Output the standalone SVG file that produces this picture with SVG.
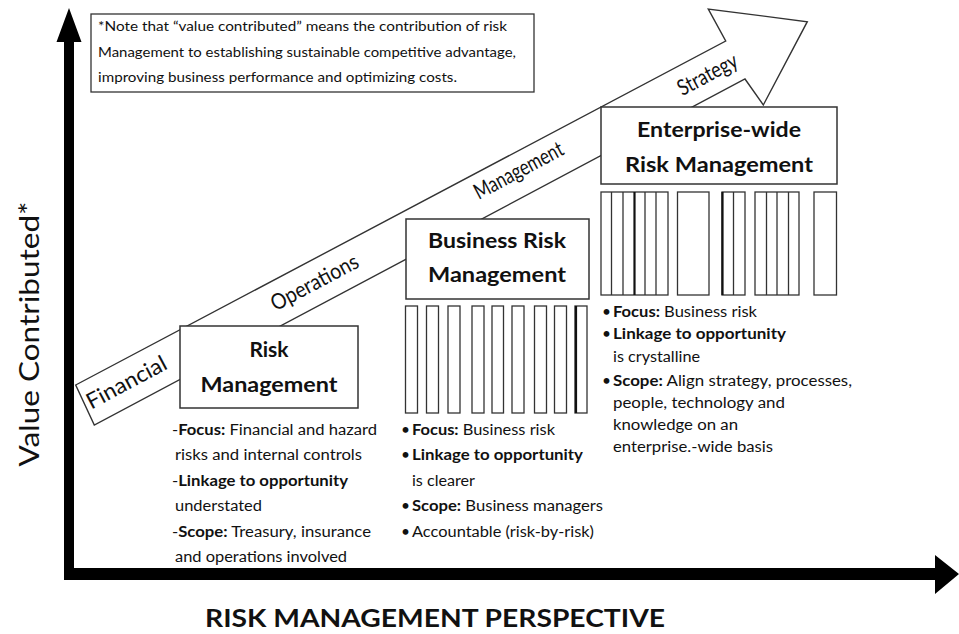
<svg xmlns="http://www.w3.org/2000/svg" width="959" height="634" viewBox="0 0 959 634">
<style>
.t{font-family:Lato,"Noto Sans",sans-serif;fill:#111}
.body{font-size:15.5px}
.note{font-size:13px}
.b{font-weight:bold}
.h{font-size:21px;font-weight:bold;text-anchor:middle}
.band{font-size:22px;text-anchor:middle}
.box{fill:#fff;stroke:#333;stroke-width:1.5}
.col{fill:#fff;stroke:#333;stroke-width:1.3}
.ln{stroke:#333;stroke-width:1.3}
.lnk{stroke:#111;stroke-width:2.2}
</style>
<rect width="959" height="634" fill="#fff"/>
<g id="arrows">
  <polygon points="56.5,42 69,8 81.5,42 74,42 74,580 64,580 64,42" fill="#000"/>
  <polygon points="64,568 935,568 935,555 959,574 935,594 935,580 64,580" fill="#000"/>
  <polygon points="75.7,385 725.7,41 708.3,9 807.3,21.7 763.3,105 745,79 94.3,425" fill="#fff" stroke="#333" stroke-width="1.4"/>
  <text class="t band" transform="translate(130,389) rotate(-28)" textLength="88" lengthAdjust="spacingAndGlyphs">Financial</text>
  <text class="t band" transform="translate(318,289) rotate(-28)" textLength="96" lengthAdjust="spacingAndGlyphs">Operations</text>
  <text class="t band" transform="translate(522,177) rotate(-28)" textLength="98" lengthAdjust="spacingAndGlyphs">Management</text>
  <text class="t band" transform="translate(711,81) rotate(-28)" textLength="65" lengthAdjust="spacingAndGlyphs">Strategy</text>
</g>
<g id="note">
  <rect x="91" y="14" width="443" height="78" fill="#fff" stroke="#333" stroke-width="1.3"/>
  <text class="t note" x="98" y="31" textLength="409" lengthAdjust="spacingAndGlyphs">*Note that “value contributed” means the contribution of risk</text>
  <text class="t note" x="98" y="57" textLength="418" lengthAdjust="spacingAndGlyphs">Management to establishing sustainable competitive advantage,</text>
  <text class="t note" x="98" y="82" textLength="359" lengthAdjust="spacingAndGlyphs">improving business performance and optimizing costs.</text>
</g>
<g id="risk-management">
  <rect class="box" x="180" y="326" width="178" height="82"/>
  <text class="t h" x="269" y="357">Risk</text>
  <text class="t h" x="269" y="392" textLength="137" lengthAdjust="spacingAndGlyphs">Management</text>
  <text class="t body" x="172" y="435" textLength="205" lengthAdjust="spacingAndGlyphs">-<tspan class="b">Focus:</tspan> Financial  and hazard</text>
  <text class="t body" x="175" y="460" textLength="187" lengthAdjust="spacingAndGlyphs">risks and internal controls</text>
  <text class="t body" x="172" y="486" textLength="176" lengthAdjust="spacingAndGlyphs">-<tspan class="b">Linkage to opportunity</tspan></text>
  <text class="t body" x="175" y="511" textLength="87" lengthAdjust="spacingAndGlyphs">understated</text>
  <text class="t body" x="172" y="537" textLength="199" lengthAdjust="spacingAndGlyphs">-<tspan class="b">Scope:</tspan> Treasury, insurance</text>
  <text class="t body" x="175" y="562" textLength="172" lengthAdjust="spacingAndGlyphs">and operations  involved</text>
</g>
<g id="business-risk-management">
  <rect class="box" x="406" y="219" width="183" height="80"/>
  <text class="t h" x="497" y="248" textLength="138" lengthAdjust="spacingAndGlyphs">Business Risk</text>
  <text class="t h" x="497" y="282" textLength="138" lengthAdjust="spacingAndGlyphs">Management</text>
  <g>
    <rect class="col" x="405.5" y="306" width="12" height="107"/>
    <rect class="col" x="426.5" y="306" width="12" height="107"/>
    <rect class="col" x="448" y="306" width="12" height="107"/>
    <rect class="col" x="472" y="306" width="12" height="107"/>
    <rect class="col" x="492" y="306" width="11.5" height="107"/>
    <rect class="col" x="512" y="306" width="12" height="107"/>
    <rect class="col" x="534.5" y="306" width="12" height="107"/>
    <rect class="col" x="554.5" y="306" width="12" height="107"/>
    <rect class="col" x="575" y="306" width="12" height="107"/>
    <line class="lnk" x1="576" y1="306" x2="576" y2="413"/>
  </g>
  <text class="t body" x="401" y="435">•</text>
  <text class="t body" x="412" y="435" textLength="143" lengthAdjust="spacingAndGlyphs"><tspan class="b">Focus:</tspan> Business risk</text>
  <text class="t body" x="401" y="460">•</text>
  <text class="t body b" x="412" y="460" textLength="171" lengthAdjust="spacingAndGlyphs">Linkage to opportunity</text>
  <text class="t body" x="412" y="486" textLength="63" lengthAdjust="spacingAndGlyphs">is clearer</text>
  <text class="t body" x="401" y="511">•</text>
  <text class="t body" x="412" y="511" textLength="191" lengthAdjust="spacingAndGlyphs"><tspan class="b">Scope:</tspan> Business managers</text>
  <text class="t body" x="401" y="537">•</text>
  <text class="t body" x="412" y="537" textLength="182" lengthAdjust="spacingAndGlyphs">Accountable  (risk-by-risk)</text>
</g>
<g id="enterprise-wide-risk-management">
  <rect class="box" x="601" y="107" width="236" height="77"/>
  <text class="t h" x="719" y="137" textLength="164" lengthAdjust="spacingAndGlyphs">Enterprise-wide</text>
  <text class="t h" x="719" y="172" textLength="188" lengthAdjust="spacingAndGlyphs">Risk Management</text>
  <g>
    <rect class="col" x="601" y="192" width="67" height="103"/>
    <line class="ln" x1="611.5" y1="192" x2="611.5" y2="295"/>
    <line class="ln" x1="623" y1="192" x2="623" y2="295"/>
    <line class="lnk" x1="634.5" y1="192" x2="634.5" y2="295"/>
    <line class="ln" x1="645" y1="192" x2="645" y2="295"/>
    <line class="ln" x1="656" y1="192" x2="656" y2="295"/>
    <rect class="col" x="677.5" y="192" width="31.5" height="103"/>
    <rect class="col" x="722" y="192" width="23" height="103"/>
    <line class="lnk" x1="722.5" y1="192" x2="722.5" y2="295"/>
    <line class="ln" x1="733.5" y1="192" x2="733.5" y2="295"/>
    <rect class="col" x="755" y="192" width="44" height="103"/>
    <line class="ln" x1="766.5" y1="192" x2="766.5" y2="295"/>
    <line class="ln" x1="777" y1="192" x2="777" y2="295"/>
    <line class="ln" x1="788.5" y1="192" x2="788.5" y2="295"/>
    <rect class="col" x="814" y="192" width="22.5" height="103"/>
  </g>
  <text class="t body" x="602" y="317">•</text>
  <text class="t body" x="613" y="317" textLength="144" lengthAdjust="spacingAndGlyphs"><tspan class="b">Focus:</tspan> Business risk</text>
  <text class="t body" x="602" y="339">•</text>
  <text class="t body b" x="613" y="339" textLength="173" lengthAdjust="spacingAndGlyphs">Linkage to opportunity</text>
  <text class="t body" x="613" y="362" textLength="87" lengthAdjust="spacingAndGlyphs">is crystalline</text>
  <text class="t body" x="602" y="386">•</text>
  <text class="t body" x="613" y="386" textLength="239" lengthAdjust="spacingAndGlyphs"><tspan class="b">Scope:</tspan> Align strategy, processes,</text>
  <text class="t body" x="613" y="408" textLength="172" lengthAdjust="spacingAndGlyphs">people, technology  and</text>
  <text class="t body" x="613" y="430" textLength="125" lengthAdjust="spacingAndGlyphs">knowledge on an</text>
  <text class="t body" x="613" y="452" textLength="160" lengthAdjust="spacingAndGlyphs">enterprise.-wide basis</text>
</g>
<g id="axis-labels">
  <text class="t" x="0" y="0" transform="translate(39,334) rotate(-90)" font-size="26" text-anchor="middle" textLength="265" lengthAdjust="spacingAndGlyphs">Value Contributed*</text>
  <text class="t b" x="435" y="627" font-size="25" text-anchor="middle" textLength="460" lengthAdjust="spacingAndGlyphs">RISK MANAGEMENT PERSPECTIVE</text>
</g>
</svg>
